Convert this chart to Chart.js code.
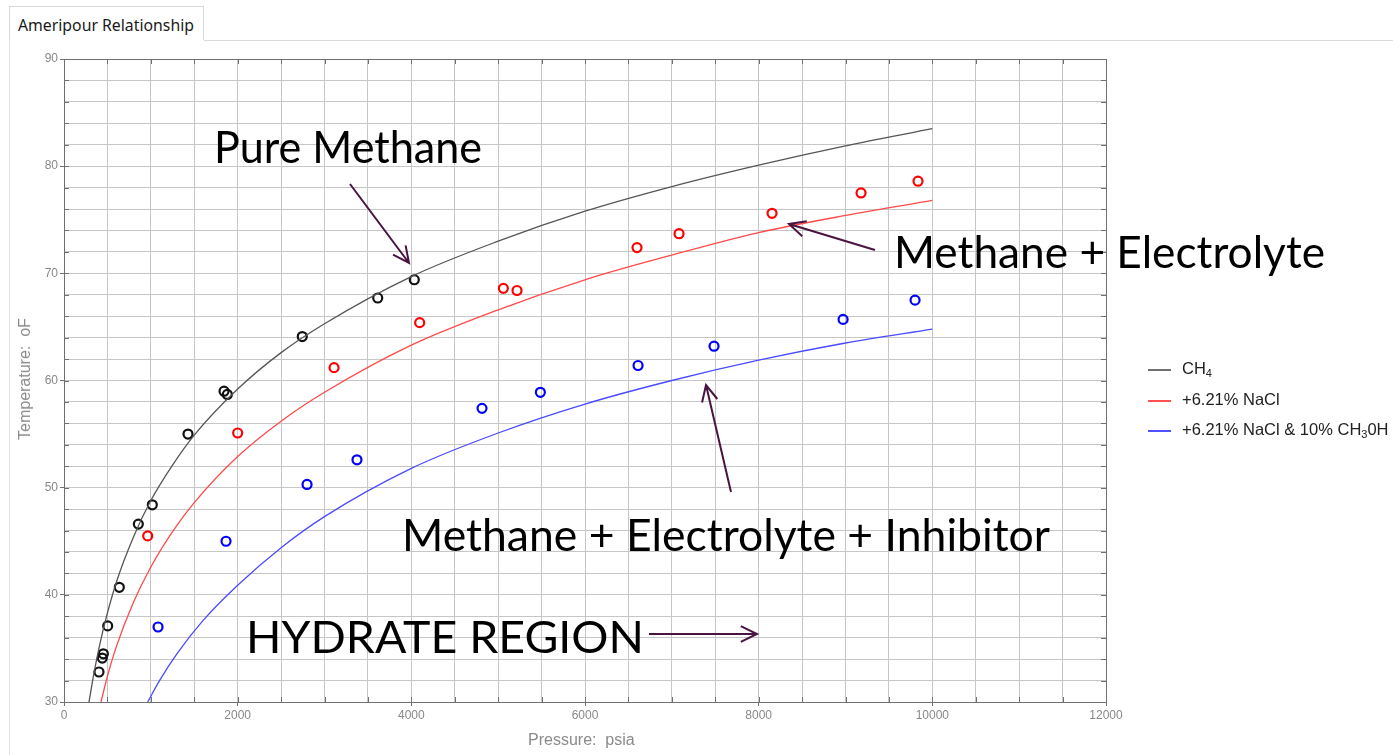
<!DOCTYPE html>
<html>
<head>
<meta charset="utf-8">
<title>Ameripour Relationship</title>
<script src="https://cdn.jsdelivr.net/npm/chart.js@4.4.1/dist/chart.umd.min.js"></script>
<style>
  html, body { margin: 0; padding: 0; background: #fff; overflow: hidden; }
  #page { position: relative; width: 1393px; height: 755px; font-family: "Liberation Sans", Arial, sans-serif; }
  #tab { position: absolute; left: 9px; top: 6px; width: 195px; height: 34px; border: 1px solid #d9d9d9; border-bottom: none; background: #fff; box-sizing: border-box; }
  #tab span { position: absolute; left: 8px; top: 7px; font-family: "Noto Sans", sans-serif; font-size: 15.8px; color: #1a1a1a; white-space: nowrap; }
  #tabline { position: absolute; left: 204px; top: 40px; width: 1189px; height: 1px; background: #d9d9d9; }
  #panelEdge { position: absolute; left: 9px; top: 40px; width: 1px; height: 715px; background: #e3e3e3; }
  #wrap { position: absolute; left: 0; top: 0; width: 1393px; height: 755px; }
  .axisTitle { position: absolute; color: #8a8a8a; font-size: 16px; white-space: pre; }
  #xTitle { left: 528px; top: 731px; }
  #yTitle { left: 25px; top: 379px; transform: translate(-50%, -50%) rotate(-90deg); }
  #legend { position: absolute; left: 1148px; top: 359px; font-size: 16.5px; color: #222; }
  #legend div { height: 30.5px; position: relative; white-space: nowrap; }
  #legend i { position: absolute; left: 0; top: 10px; width: 23px; height: 2px; }
  #legend span { position: absolute; left: 34px; top: 0; }
  #legend sub { font-size: 11px; vertical-align: -3px; }
</style>
</head>
<body>
<div id="page">
  <div id="panelEdge"></div>
  <div id="tabline"></div>
  <div id="tab"><span>Ameripour Relationship</span></div>
  <div id="wrap"><canvas id="chart"></canvas></div>
  <div class="axisTitle" id="xTitle">Pressure:  psia</div>
  <div class="axisTitle" id="yTitle">Temperature:  oF</div>
  <div id="legend">
    <div><i style="background:#707070"></i><span>CH<sub>4</sub></span></div>
    <div><i style="background:#ff5050"></i><span>+6.21% NaCl</span></div>
    <div><i style="background:#5050ff"></i><span>+6.21% NaCl &amp; 10% CH<sub>3</sub>0H</span></div>
  </div>
</div>
<script>
// measured points (pressure psia, temperature oF)
const ch4P = [403, 441, 453, 503, 637, 856, 1017, 1428, 1843, 1881, 2744, 3613, 4034];
const ch4T = [32.8, 34.1, 34.5, 37.1, 40.7, 46.6, 48.4, 55.0, 59.0, 58.7, 64.1, 67.7, 69.4];
const naclP = [964, 2000, 3110, 4096, 5060, 5217, 6599, 7083, 8154, 9179, 9835];
const naclT = [45.5, 55.1, 61.2, 65.4, 68.6, 68.4, 72.4, 73.7, 75.6, 77.5, 78.6];
const methP = [1083, 1866, 2799, 3374, 4814, 5486, 6611, 7486, 8972, 9801];
const methT = [37.0, 45.0, 50.3, 52.6, 57.4, 58.9, 61.4, 63.2, 65.7, 67.5];

// Ameripour curves
const ch4CurveP = [288, 350, 450, 600, 800, 1000, 1250, 1500, 2000, 2500, 3000, 4000, 5000, 6000, 7000, 8000, 9000, 10000];
const ch4CurveT = [30, 32.9, 36.7, 41.1, 45.4, 48.8, 52.1, 54.9, 59.2, 62.6, 65.3, 69.7, 73.0, 75.8, 78.1, 80.1, 81.9, 83.5];
const naclCurveP = [426, 500, 600, 800, 1000, 1250, 1500, 2000, 2500, 3000, 4000, 5000, 6000, 7000, 8000, 9000, 10000];
const naclCurveT = [30, 32.4, 35.1, 39.3, 42.6, 45.9, 48.6, 52.9, 56.2, 58.9, 63.3, 66.6, 69.4, 71.7, 73.8, 75.4, 76.8];
const methCurveP = [964, 1100, 1300, 1600, 2000, 2500, 3000, 4000, 5000, 6000, 7000, 8000, 9000, 10000];
const methCurveT = [30, 32.0, 34.5, 37.6, 40.9, 44.4, 47.3, 51.8, 55.1, 57.8, 60.0, 61.9, 63.5, 64.8];

const xTicks = [0, 2000, 4000, 6000, 8000, 10000, 12000];
const yTicks = [30, 40, 50, 60, 70, 80, 90];

function pts(px, ty) { return px.map((p, i) => ({ x: p, y: ty[i] })); }

function curve(px, ty, color) {
    return {
        data: pts(px, ty), showLine: true, pointRadius: 0, borderColor: color,
        borderWidth: 1.3, cubicInterpolationMode: 'monotone', fill: false
    };
}
function dots(px, ty, color) {
    return {
        data: pts(px, ty), showLine: false, pointRadius: 4.5, pointBorderWidth: 2.2,
        pointBorderColor: color, pointBackgroundColor: 'rgba(0,0,0,0)', pointHoverRadius: 4.5
    };
}

function arrow(ctx, x1, y1, x2, y2) {
    const a = Math.atan2(y2 - y1, x2 - x1), h = 18, s = 0.45;
    ctx.beginPath();
    ctx.moveTo(x1, y1); ctx.lineTo(x2, y2);
    ctx.moveTo(x2 - h * Math.cos(a - s), y2 - h * Math.sin(a - s));
    ctx.lineTo(x2, y2);
    ctx.lineTo(x2 - h * Math.cos(a + s), y2 - h * Math.sin(a + s));
    ctx.stroke();
}

function label(ctx, text, left, right, baseline, cap) {
    const size = cap / 0.72;
    ctx.font = size + 'px Lato';
    const w = ctx.measureText(text).width;
    ctx.save();
    ctx.translate(left, baseline);
    ctx.scale((right - left) / w, 1);
    ctx.fillText(text, 0, 0);
    ctx.restore();
}

// frame, inner tick marks and the slide annotations
const extras = {
    id: 'extras',
    afterDraw(chart) {
        const { ctx, chartArea: a, scales: { x, y } } = chart;
        ctx.save();
        ctx.strokeStyle = '#707070';
        ctx.lineWidth = 1;
        ctx.beginPath();
        for (let p = 500; p < 12000; p += 500) {
            const px = Math.round(x.getPixelForValue(p)) + 0.5;
            ctx.moveTo(px, a.top); ctx.lineTo(px, a.top + 5);
            ctx.moveTo(px, a.bottom); ctx.lineTo(px, a.bottom - 5);
        }
        for (let t = 32; t < 90; t += 2) {
            const py = Math.round(y.getPixelForValue(t)) + 0.5;
            ctx.moveTo(a.left, py); ctx.lineTo(a.left + 5, py);
            ctx.moveTo(a.right, py); ctx.lineTo(a.right - 5, py);
        }
        ctx.stroke();
        ctx.strokeRect(Math.round(a.left) + 0.5, Math.round(a.top) + 0.5, Math.round(a.width), Math.round(a.height));

        ctx.fillStyle = '#000';
        ctx.textBaseline = 'alphabetic';
        label(ctx, 'Pure Methane', 214, 482, 163, 32);
        label(ctx, 'Methane + Electrolyte', 894, 1325, 268, 32);
        label(ctx, 'Methane + Electrolyte + Inhibitor', 402, 1050, 551, 32);
        label(ctx, 'HYDRATE REGION', 246, 644, 653, 32);

        ctx.strokeStyle = '#4a1440';
        ctx.lineWidth = 2;
        arrow(ctx, 350, 184, 409, 263);
        arrow(ctx, 875, 250, 789, 224);
        arrow(ctx, 731, 492, 706, 385);
        arrow(ctx, 649, 634, 757, 634);
        ctx.restore();
    }
};

const tickFont = { family: '"Liberation Sans", Arial, sans-serif', size: 12 };

new Chart(document.getElementById('chart'), {
    type: 'scatter',
    data: {
        datasets: [
            curve(ch4CurveP, ch4CurveT, '#555555'),
            curve(naclCurveP, naclCurveT, '#ff4a4a'),
            curve(methCurveP, methCurveT, '#4a4aff'),
            dots(ch4P, ch4T, '#111111'),
            dots(naclP, naclT, '#ff0000'),
            dots(methP, methT, '#0000ff')
        ]
    },
    options: {
        responsive: true,
        maintainAspectRatio: false,
        animation: false,
        devicePixelRatio: 1,
        layout: { padding: { left: 0, top: 59, right: 287, bottom: 0 } },
        plugins: { legend: { display: false }, tooltip: { enabled: false } },
        scales: {
            x: {
                type: 'linear', min: 0, max: 12000,
                afterFit: s => { s.height = 53; },
                ticks: {
                    stepSize: 500, autoSkip: false, maxRotation: 0, padding: 2,
                    color: '#888', font: tickFont,
                    callback: v => xTicks.includes(v) ? String(v) : ''
                },
                grid: {
                    color: '#c6c6c6', tickLength: 4,
                    tickColor: c => xTicks.includes(c.tick && c.tick.value) ? '#707070' : 'rgba(0,0,0,0)'
                },
                border: { color: '#707070' }
            },
            y: {
                type: 'linear', min: 30, max: 90,
                afterFit: s => { s.width = 64; },
                ticks: {
                    stepSize: 2, autoSkip: false, padding: 2,
                    color: '#888', font: tickFont,
                    callback: v => yTicks.includes(v) ? String(v) : ''
                },
                grid: {
                    color: '#c6c6c6', tickLength: 4,
                    tickColor: c => yTicks.includes(c.tick && c.tick.value) ? '#707070' : 'rgba(0,0,0,0)'
                },
                border: { color: '#707070' }
            }
        }
    },
    plugins: [extras]
});
</script>
</body>
</html>
